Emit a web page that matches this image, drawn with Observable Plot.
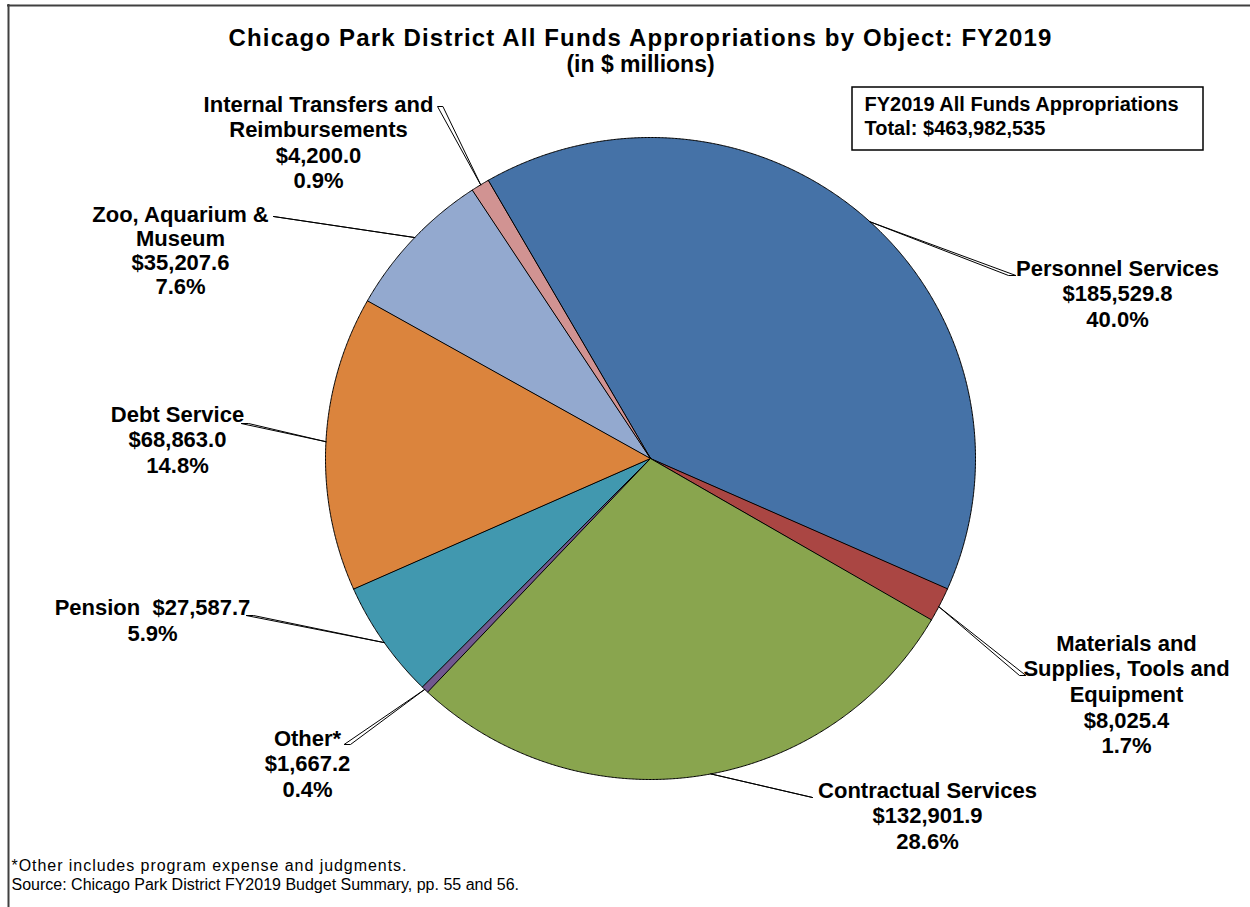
<!DOCTYPE html>
<html>
<head>
<meta charset="utf-8">
<script src="https://cdn.jsdelivr.net/npm/d3@7"></script>
<script src="https://cdn.jsdelivr.net/npm/@observablehq/plot@0.6"></script>
<style>
  html, body { margin: 0; padding: 0; background: white; }
  #chart svg { display: block; }
</style>
</head>
<body>
<div id="chart"></div>
<script>
// ---- Data ----
const categories = [
  "Personnel Services",
  "Materials and Supplies, Tools and Equipment",
  "Contractual Services",
  "Other*",
  "Pension",
  "Debt Service",
  "Zoo, Aquarium & Museum",
  "Internal Transfers and Reimbursements"
];
const values = [185529.8, 8025.4, 132901.9, 1667.2, 27587.7, 68863.0, 35207.6, 4200.0];
const percents = ["40.0%", "1.7%", "28.6%", "0.4%", "5.9%", "14.8%", "7.6%", "0.9%"];
const colors = ["#4572A7", "#AA4643", "#89A54E", "#71588F", "#4198AF", "#DB843D", "#93A9CF", "#D19392"];
const labelLines = [
  ["Personnel Services", "$185,529.8", "40.0%"],
  ["Materials and", "Supplies, Tools and", "Equipment", "$8,025.4", "1.7%"],
  ["Contractual Services", "$132,901.9", "28.6%"],
  ["Other*", "$1,667.2", "0.4%"],
  ["Pension  $27,587.7", "5.9%"],
  ["Debt Service", "$68,863.0", "14.8%"],
  ["Zoo, Aquarium &", "Museum", "$35,207.6", "7.6%"],
  ["Internal Transfers and", "Reimbursements", "$4,200.0", "0.9%"]
];
const titleLines = ["Chicago Park District All Funds Appropriations by Object: FY2019", "(in $ millions)"];
const boxLines = ["FY2019 All Funds Appropriations", "Total: $463,982,535"];
const footnotes = ["*Other includes program expense and judgments.", "Source: Chicago Park District FY2019 Budget Summary, pp. 55 and 56."];

// ---- Layout (pixel-space coordinates of the page) ----
const W = 1250, H = 907;
const pie = {cx: 650, cy: 458, rx: 325, ry: 321, start: -30};
// label block: center x, first line y, line spacing
const labelLayout = [
  {x: 1117, y: 268, dy: 25.5},
  {x: 1126, y: 643, dy: 25.7},
  {x: 927, y: 790, dy: 25.5},
  {x: 307, y: 738, dy: 25.5},
  {x: 152, y: 607, dy: 26},
  {x: 177, y: 414, dy: 25.5},
  {x: 180, y: 214, dy: 24},
  {x: 318, y: 104, dy: 25.5}
];
// leader: angle on pie edge, end point near label, wedge side (px)
const leaderLayout = [
  {a: 42.5, x: 1008, y: 275, w: 7},
  {a: 117.5, x: 1019, y: 675, w: 6},
  {a: 169.3, x: 812, y: 797, w: 0},
  {a: 224.0, x: 350, y: 744, w: -6},
  {a: 235.0, x: 253, y: 615, w: -7},
  {a: 273.0, x: 248, y: 423, w: -7},
  {a: 313.5, x: 273, y: 216, w: 0},
  {a: 328.5, x: 437, y: 106, w: 5}
];

const rad = d => d * Math.PI / 180;
const edge = a => ({x: pie.cx + pie.rx * Math.sin(a), y: pie.cy - pie.ry * Math.cos(a)});

// ---- Build slices via d3.pie ----
const arcs = d3.pie().sort(null)
  .startAngle(rad(pie.start)).endAngle(rad(pie.start + 360))(values);
const slicePts = [];
arcs.forEach((arc, i) => {
  const name = categories[i], color = colors[i];
  slicePts.push({name, color, x: pie.cx, y: pie.cy});
  const n = Math.max(2, Math.ceil((arc.endAngle - arc.startAngle) / rad(0.25)));
  for (let k = 0; k <= n; k++) {
    const a = arc.startAngle + (arc.endAngle - arc.startAngle) * k / n;
    const p = edge(a);
    slicePts.push({name, color, x: p.x, y: p.y});
  }
});

// leaders
const leaderPts = [];
leaderLayout.forEach((l, i) => {
  const p = edge(rad(l.a));
  const name = categories[i];
  leaderPts.push({name, x: p.x, y: p.y});
  leaderPts.push({name, x: l.x, y: l.y});
  if (l.w !== 0) leaderPts.push({name, x: l.x + l.w, y: l.y});
});

// label text rows
const labelRows = [];
labelLines.forEach((lines, i) => {
  const L = labelLayout[i];
  lines.forEach((t, j) => labelRows.push({text: t, x: L.x, y: L.y + j * L.dy}));
});

const titleRows = titleLines.map((t, j) => ({text: t, x: 640, y: 38 + j * 26}));
const boxRows = boxLines.map((t, j) => ({text: t, x: 864, y: 104 + j * 24}));
const footRows = footnotes.map((t, j) => ({text: t, x: 11, y: 865 + j * 19}));
const box = [{x1: 852, x2: 1203, y1: 87, y2: 150}];

const font = "'Liberation Sans', Arial, sans-serif";

const chart = Plot.plot({
  width: W, height: H, margin: 0,
  x: {domain: [0, W], range: [0, W], axis: null},
  y: {domain: [0, H], range: [0, H], axis: null},
  color: {type: "identity"},
  style: {fontFamily: font, background: "white", color: "black"},
  marks: [
    Plot.ruleX([8], {y1: 4, y2: H, stroke: "#404040", strokeWidth: 2}),
    Plot.ruleY([5], {x1: 7, x2: W, stroke: "#404040", strokeWidth: 2}),
    Plot.line(slicePts, {x: "x", y: "y", z: "name", fill: "color", stroke: "black", strokeWidth: 1, curve: "linear-closed", strokeLinejoin: "round"}),
    Plot.line(leaderPts, {x: "x", y: "y", z: "name", fill: "white", stroke: "black", strokeWidth: 1, curve: "linear-closed"}),
    Plot.rect(box, {x1: "x1", x2: "x2", y1: "y1", y2: "y2", fill: "white", stroke: "black", strokeWidth: 1.5}),
    Plot.text(titleRows.slice(0, 1), {x: "x", y: "y", text: "text", fontSize: 24, fontWeight: "bold", fill: "black", textAnchor: "middle"}),
    Plot.text(titleRows.slice(1), {x: "x", y: "y", text: "text", fontSize: 23, fontWeight: "bold", fill: "black", textAnchor: "middle"}),
    Plot.text(labelRows, {x: "x", y: "y", text: "text", fontSize: 22, fontWeight: "bold", fill: "black", textAnchor: "middle"}),
    Plot.text(boxRows, {x: "x", y: "y", text: "text", fontSize: 20, fontWeight: "bold", fill: "black", textAnchor: "start"}),
    Plot.text(footRows, {x: "x", y: "y", text: "text", fontSize: 16, fill: "black", textAnchor: "start"})
  ]
});
// letter spacing tweaks (Plot has no letterSpacing option)
const spacing = new Map([[titleLines[0], 1.15], [footnotes[0], 0.95]]);
d3.select(chart).selectAll("text").each(function() {
  const s = spacing.get(this.textContent);
  if (s != null) this.setAttribute("letter-spacing", s);
});
document.getElementById("chart").appendChild(chart);
</script>
</body>
</html>
